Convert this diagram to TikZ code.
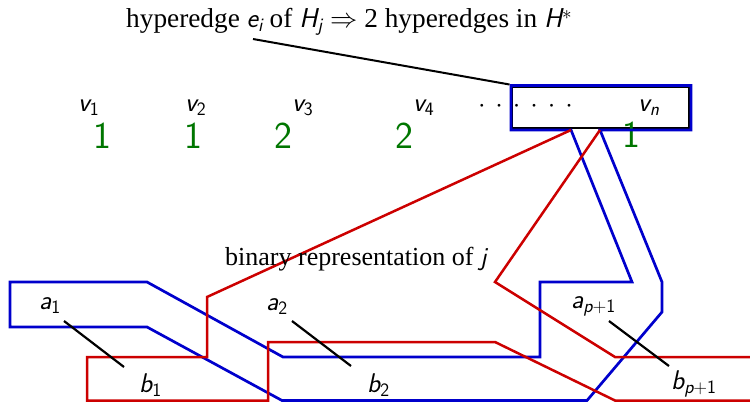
\RequirePackage{fix-cm}
\documentclass[tikz,border=0pt]{standalone}
\usepackage{amsmath}
\usepackage{fontspec}
\setmainfont{Liberation Serif}
\definecolor{hred}{RGB}{204,0,0}
\definecolor{hblue}{RGB}{0,0,204}
\definecolor{hgreen}{RGB}{0,118,0}
\newcommand\sfi[1]{\text{\sffamily\slshape #1}}
\newcommand\sfu[1]{\text{\sffamily #1}}
\tikzset{
  vlab/.style={inner sep=0pt, font=\fontsize{27}{32}\selectfont},
  numlab/.style={inner sep=0pt, text=hgreen, font=\fontsize{38}{44}\selectfont\sffamily},
  sertext/.style={inner sep=0pt, font=\fontsize{26}{30}\selectfont},
  titletext/.style={inner sep=0pt, font=\fontsize{27.3}{32}\selectfont},
  blueedge/.style={draw=hblue, line width=2.7pt, line join=miter},
  rededge/.style={draw=hred, line width=2.5pt, line join=miter},
  linkline/.style={draw=black, line width=2.2pt},
  boxstyle/.style={draw=black, line width=1.6pt, inner sep=0pt, minimum width=176.5pt, minimum height=40.5pt}
}
\begin{document}
\begin{tikzpicture}[x=1pt,y=-1pt]
\useasboundingbox (0,0) rectangle (750,402);
\clip (0,0) rectangle (750,402);

% title
\node[titletext, anchor=base west] (title) at (126,27)
  {hyperedge $\sfi{e}_{\sfi{i}}$ of $\sfi{H}_{\sfi{j}}\Rightarrow$ 2 hyperedges in $\sfi{H}$\raisebox{7.5pt}{$\scriptstyle\ast$}};

% hyperedge box
\node[boxstyle] (box) at (600.75,107.75) {};

% vertex labels
\node[vlab, anchor=base west] (v1) at (78,111) {$\sfi{v}_{\sfu{1}}$};
\node[vlab, anchor=base west] (v2) at (185,111) {$\sfi{v}_{\sfu{2}}$};
\node[vlab, anchor=base west] (v3) at (292,111) {$\sfi{v}_{\sfu{3}}$};
\node[vlab, anchor=base west] (v4) at (413,111) {$\sfi{v}_{\sfu{4}}$};
\node[vlab, anchor=base west] (vn) at (638,111) {$\sfi{v}_{\sfi{n}}$};
\node[vlab, anchor=base] (dots) at (525.5,112)
  {$\cdot$\hspace{10pt}$\cdot$\hspace{10pt}$\cdot$\hspace{10pt}$\cdot$\hspace{10pt}$\cdot$\hspace{10pt}$\cdot$};

% multiplicities
\node[numlab, anchor=base] (m1) at (102,148) {1};
\node[numlab, anchor=base] (m2) at (193,148) {1};
\node[numlab, anchor=base] (m3) at (283,148) {2};
\node[numlab, anchor=base] (m4) at (404,148) {2};
\node[numlab, anchor=base] (mn) at (631,147) {1};

% blue hyperedge
\draw[blueedge] (600,130) -- (662,282) -- (662,312) -- (587,400.5) -- (282,400.5)
  -- (147,327) -- (10,327) -- (10,282) -- (147,282) -- (283,357) -- (540,357)
  -- (540,282) -- (632,282) -- (571,130) -- (511,130) -- (511,85.5) -- (691,85.5)
  -- (691,130) -- cycle;

% red hyperedge
\draw[rededge] (571,130) -- (207,297) -- (207,357) -- (87,357) -- (87,400.5)
  -- (268,400.5) -- (268,342) -- (495,342) -- (615,400.5) -- (770,400.5)
  -- (770,357) -- (615,357) -- (495,282) -- (600,130);

\node[sertext, anchor=base west] (binrep) at (225,265) {binary representation of $\sfi{j}$};

% leader line
\coordinate (lstart) at (253,39);
\coordinate (bcorner) at (509.5,84.5);
\draw[linkline, line width=2pt] (lstart) -- (bcorner);

% a_i, b_i
\node[vlab, anchor=base west] (a1) at (39,309) {$\sfi{a}_{\sfu{1}}$};
\node[vlab, anchor=base west] (a2) at (266,310) {$\sfi{a}_{\sfu{2}}$};
\node[vlab, anchor=base west] (ap) at (571,308) {$\sfi{a}_{\sfi{p}\sfu{+1}}$};
\node[vlab, anchor=base west] (b1) at (139,392) {$\sfi{b}_{\sfu{1}}$};
\node[vlab, anchor=base west] (b2) at (367,392) {$\sfi{b}_{\sfu{2}}$};
\node[vlab, anchor=base west] (bp) at (671,389) {$\sfi{b}_{\sfi{p}\sfu{+1}}$};

\coordinate (a1e) at (64,321);  \coordinate (b1e) at (124,367);
\coordinate (a2e) at (292,321); \coordinate (b2e) at (351,366);
\coordinate (ape) at (609,321); \coordinate (bpe) at (669,366);
\draw[linkline] (a1e) -- (b1e);
\draw[linkline] (a2e) -- (b2e);
\draw[linkline] (ape) -- (bpe);
\end{tikzpicture}
\end{document}
